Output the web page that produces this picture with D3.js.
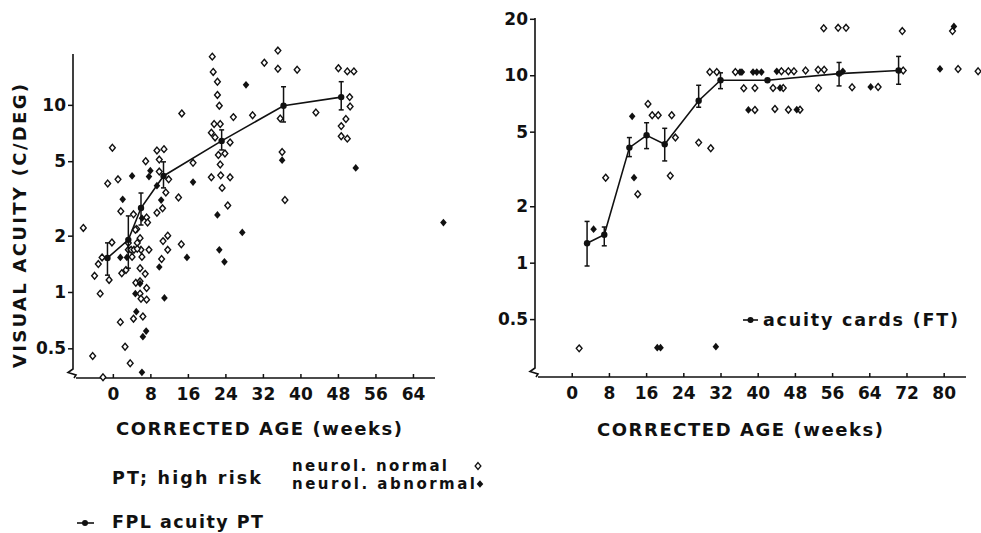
<!DOCTYPE html>
<html>
<head>
<meta charset="utf-8">
<script src="https://cdn.jsdelivr.net/npm/d3@7"></script>
<style>
  html, body { margin: 0; padding: 0; background: #fff; }
  svg { display: block; }
  text { font-family: "DejaVu Sans", "Liberation Sans", sans-serif; font-weight: bold; fill: #111; }
</style>
</head>
<body>
<script>
// ---- Preterm infants, high risk (FPL): individual acuities [age in weeks, c/deg]
const ptNormal = [
  [21.2,18.1],[21.4,15.0],[22.3,13.3],[22.3,11.3],[22.7,9.9],[14.7,9.0],[25.7,8.6],[21.6,7.9],[22.9,7.9],
  [-0.1,5.9],[9.4,5.7],[10.9,5.8],[7.0,5.0],[9.9,5.1],[17.1,4.9],[-1.1,3.8],[1.1,4.0],[21.0,4.1],[23.0,4.2],
  [25.0,4.1],[23.3,3.6],[24.5,2.9],[14.0,3.2],[11.3,3.4],[1.7,2.7],[4.4,2.6],[-6.3,2.2],[21.0,7.1],[21.8,6.7],
  [25.0,6.3],[22.5,5.4],[23.9,5.5],[22.9,4.8],[9.9,4.4],[11.9,4.0],[7.2,2.5],[7.4,2.35],[9.4,2.65],[10.6,2.8],
  [5.1,2.17],[35.2,19.5],[32.3,16.8],[35.2,15.6],[39.3,15.4],[48.1,15.7],[50.0,15.1],[51.4,15.1],[29.8,8.8],
  [35.7,8.45],[43.3,9.1],[50.5,11.0],[50.6,9.8],[49.7,8.4],[48.7,7.7],[48.7,6.8],[50.0,6.6],[36.1,5.6],[36.7,3.1],
  [-2.3,1.53],[-3.1,1.41],[-0.2,1.84],[-0.8,1.16],[-3.9,1.22],[-2.7,0.98],[2.8,1.31],[1.9,1.26],[4.8,2.15],
  [3.3,1.68],[3.9,1.68],[4.5,1.68],[5.2,1.83],[5.8,1.94],[4.1,1.54],[6.2,1.54],[3.3,1.83],[6.0,1.68],[5.2,1.70],
  [7.7,1.68],[10.4,1.50],[11.7,1.68],[10.7,1.87],[11.7,2.0],[14.6,1.8],[5.8,1.34],[6.9,1.25],[4.9,1.12],
  [5.8,1.14],[7.2,1.05],[5.8,0.98],[7.2,0.91],[6.0,0.92],[4.4,0.72],[6.4,0.74],[1.6,0.69],[2.6,0.51],
  [-4.3,0.455],[3.7,0.416],[-2.1,0.35]
];
const ptAbnormal = [
  [4.1,4.17],[8.0,4.45],[7.7,4.14],[17.1,3.87],[2.1,3.13],[10.3,3.1],[22.3,2.58],[6.2,2.48],[9.4,3.7],
  [28.4,12.8],[36.1,5.06],[51.8,4.6],[70.5,2.35],[27.6,2.08],[1.6,1.53],[3.0,1.53],[9.9,1.36],[15.8,1.53],
  [11.0,0.93],[4.8,0.98],[5.8,1.11],[5.0,0.785],[7.1,0.618],[6.4,0.577],[6.2,0.372],[22.7,1.68],[23.8,1.45]
];
// FPL acuity PT: group means with error bars
const fplAge  = [-1.15, 3.3, 6.0, 10.8, 23.2, 36.4, 48.7];
const fplMean = [1.52, 1.90, 2.81, 4.17, 6.42, 9.9, 11.0];
const fplLow  = [1.23, 1.34, 2.28, 3.60, 5.74, 8.1, 9.4];
const fplHigh = [1.83, 2.55, 3.38, 4.96, 7.35, 12.5, 13.3];

// ---- Acuity cards: individual acuities [age in weeks, c/deg]
const cardNormal = [
  [29.7,10.4],[31.2,10.4],[35.2,10.4],[37.0,8.52],[39.4,8.55],[39.4,6.53],[16.4,7.03],[17.3,6.12],[18.6,6.12],
  [21.5,6.12],[22.3,4.65],[27.3,4.37],[29.9,4.08],[7.3,2.84],[21.2,2.91],[14.2,2.32],[54.2,17.8],[57.3,17.9],
  [59.0,17.9],[71.1,17.2],[81.9,17.2],[45.1,10.5],[46.6,10.5],[47.8,10.5],[50.3,10.6],[53.0,10.7],[54.3,10.7],
  [71.3,10.6],[83.1,10.8],[87.4,10.5],[43.3,8.55],[45.5,8.55],[53.1,8.55],[60.3,8.63],[65.9,8.66],[43.7,6.61],
  [46.6,6.55],[49.1,6.55],[1.6,0.349]
];
const cardAbnormal = [
  [36.2,10.4],[36.6,10.4],[39.0,10.4],[39.8,10.4],[40.8,10.4],[44.1,10.5],[58.3,10.5],[79.2,10.8],[82.2,18.2],
  [38.0,6.53],[44.8,8.55],[48.4,6.55],[64.3,8.66],[13.0,6.04],[13.4,2.84],[4.7,1.51],[18.4,0.352],[19.1,0.352],
  [31.0,0.356]
];
// acuity cards (FT): group means with error bars (null = no bar)
const ftAge  = [3.3, 7.0, 12.4, 16.1, 20.0, 27.3, 32.0, 42.1, 57.5, 70.3];
const ftMean = [1.27, 1.41, 4.11, 4.78, 4.28, 7.31, 9.40, 9.40, 10.2, 10.6];
const ftLow  = [0.96, 1.23, 3.68, 4.06, 3.49, 6.75, 8.48, null, 8.77, 8.95];
const ftHigh = [1.66, 1.55, 4.65, 5.58, 5.21, 8.84, 10.3, null, 11.7, 12.6];

// ---- tick labels
const leftAgeTicks  = [0, 8, 16, 24, 32, 40, 48, 56, 64];
const rightAgeTicks = [0, 8, 16, 24, 32, 40, 48, 56, 64, 72, 80];
const leftAcuityTicks  = [0.5, 1, 2, 5, 10];
const rightAcuityTicks = [0.5, 1, 2, 5, 10, 20];

const W = 981, H = 533;
const svg = d3.select("body").append("svg").attr("width", W).attr("height", H);
svg.append("rect").attr("width", W).attr("height", H).attr("fill", "#fff");

const diamond = {
  draw(ctx, size) {
    const r = Math.sqrt(size) / 2;
    ctx.moveTo(0, -r); ctx.lineTo(r * 0.85, 0); ctx.lineTo(0, r); ctx.lineTo(-r * 0.85, 0); ctx.closePath();
  }
};
const openSym = d3.symbol().type(diamond).size(46)();
const fillSym = d3.symbol().type(diamond).size(60)();

function panel(cfg) {
  const { x, y, xTicks, yTicks } = cfg;
  const g = svg.append("g");
  const [x0, x1] = x.range();
  const [yb, yt] = y.range();

  // axes with the broken-scale mark at the origin
  const axisPath = d3.path();
  axisPath.moveTo(x0, yt);
  axisPath.lineTo(x0, yb - 9);
  axisPath.lineTo(x0 - 5, yb - 5.5);
  axisPath.lineTo(x0 + 3, yb - 3);
  axisPath.lineTo(x0 + 1, yb);
  axisPath.moveTo(x0 + 3, yb);
  axisPath.lineTo(x1, yb);
  g.append("path").attr("d", axisPath.toString()).attr("fill", "none")
    .attr("stroke", "#111").attr("stroke-width", 1.6);

  const ya = g.append("g").attr("transform", `translate(${x0},0)`)
    .call(d3.axisLeft(y).tickValues(yTicks).tickFormat(d => String(d)).tickSize(5).tickPadding(2));
  ya.select(".domain").remove();
  ya.selectAll("line").attr("stroke", "#111").attr("stroke-width", 1.5);
  ya.selectAll("text").attr("font-size", 17).attr("font-family", null).attr("fill", "#111");

  const xa = g.append("g").attr("transform", `translate(0,${yb})`)
    .call(d3.axisBottom(x).tickValues(xTicks).tickSize(-4).tickPadding(10));
  xa.select(".domain").remove();
  xa.selectAll("line").attr("stroke", "#111").attr("stroke-width", 1.5);
  xa.selectAll("text").attr("font-size", 17).attr("font-family", null).attr("fill", "#111");

  // individual points
  g.append("g").selectAll("path").data(cfg.normal).join("path")
    .attr("d", openSym).attr("transform", d => `translate(${x(d[0])},${y(d[1])})`)
    .attr("fill", "#fff").attr("stroke", "#111").attr("stroke-width", 1.4);
  g.append("g").selectAll("path").data(cfg.abnormal).join("path")
    .attr("d", fillSym).attr("transform", d => `translate(${x(d[0])},${y(d[1])})`)
    .attr("fill", "#111");

  // mean curve
  const means = cfg.age.map((a, i) => ({ a, m: cfg.mean[i], lo: cfg.low[i], hi: cfg.high[i] }));
  g.append("path").datum(means)
    .attr("d", d3.line().x(d => x(d.a)).y(d => y(d.m)))
    .attr("fill", "none").attr("stroke", "#111").attr("stroke-width", 1.6);
  const bars = g.append("g").selectAll("g").data(means.filter(d => d.lo != null)).join("g")
    .attr("stroke", "#111").attr("stroke-width", 1.5);
  bars.append("line").attr("x1", d => x(d.a)).attr("x2", d => x(d.a))
    .attr("y1", d => y(d.lo)).attr("y2", d => y(d.hi));
  bars.append("line").attr("x1", d => x(d.a) - 2.5).attr("x2", d => x(d.a) + 2.5)
    .attr("y1", d => y(d.lo)).attr("y2", d => y(d.lo));
  bars.append("line").attr("x1", d => x(d.a) - 2.5).attr("x2", d => x(d.a) + 2.5)
    .attr("y1", d => y(d.hi)).attr("y2", d => y(d.hi));
  g.append("g").selectAll("circle").data(means).join("circle")
    .attr("cx", d => x(d.a)).attr("cy", d => y(d.m)).attr("r", 3.2).attr("fill", "#111");

  return g;
}

function label(txt, px, py, len, opts = {}) {
  const t = svg.append("text").attr("x", px).attr("y", py).text(txt)
    .attr("font-size", opts.size || 17.5)
    .attr("text-anchor", opts.anchor || "start");
  if (len) t.attr("textLength", len).attr("lengthAdjust", "spacing");
  if (opts.rotate) t.attr("transform", `rotate(-90,${px},${py})`);
  return t;
}

// ---- left panel: FPL, preterm high risk
const xL = d3.scaleLinear().domain([-8.5, 68.7]).range([73, 435]);
const yL = d3.scaleLog().domain([0.347, 18.7]).range([378, 54]);
panel({ x: xL, y: yL, xTicks: leftAgeTicks, yTicks: leftAcuityTicks,
        normal: ptNormal, abnormal: ptAbnormal,
        age: fplAge, mean: fplMean, low: fplLow, high: fplHigh });

// ---- right panel: acuity cards
const xR = d3.scaleLinear().domain([-7.9, 84.8]).range([535, 966]);
const yR = d3.scaleLog().domain([0.2455, 20.2]).range([377, 18]);
panel({ x: xR, y: yR, xTicks: rightAgeTicks, yTicks: rightAcuityTicks,
        normal: cardNormal, abnormal: cardAbnormal,
        age: ftAge, mean: ftMean, low: ftLow, high: ftHigh });

// ---- titles
label("VISUAL ACUITY (C/DEG)", 26, 226, 284, { anchor: "middle", rotate: true, size: 18 });
label("CORRECTED AGE (weeks)", 259, 435, 286, { anchor: "middle", size: 18 });
label("CORRECTED AGE (weeks)", 740, 436, 286, { anchor: "middle", size: 18 });

// ---- legend, left
label("PT; high risk", 112, 484, 149);
label("neurol. normal", 292, 471, 155, { size: 15 });
label("neurol. abnormal", 292, 489, 183, { size: 15 });
svg.append("path").attr("d", openSym).attr("transform", "translate(478,466)")
  .attr("fill", "#fff").attr("stroke", "#111").attr("stroke-width", 1.3);
svg.append("path").attr("d", fillSym).attr("transform", "translate(480,484)").attr("fill", "#111");
svg.append("line").attr("x1", 77).attr("x2", 94).attr("y1", 523).attr("y2", 523)
  .attr("stroke", "#111").attr("stroke-width", 1.6);
svg.append("circle").attr("cx", 85).attr("cy", 523).attr("r", 3).attr("fill", "#111");
label("FPL acuity PT", 112, 528, 151);

// ---- legend, right
svg.append("line").attr("x1", 743).attr("x2", 758).attr("y1", 320).attr("y2", 320)
  .attr("stroke", "#111").attr("stroke-width", 1.6);
svg.append("circle").attr("cx", 750.5).attr("cy", 320).attr("r", 3).attr("fill", "#111");
label("acuity cards (FT)", 763, 326, 195);
</script>
</body>
</html>
